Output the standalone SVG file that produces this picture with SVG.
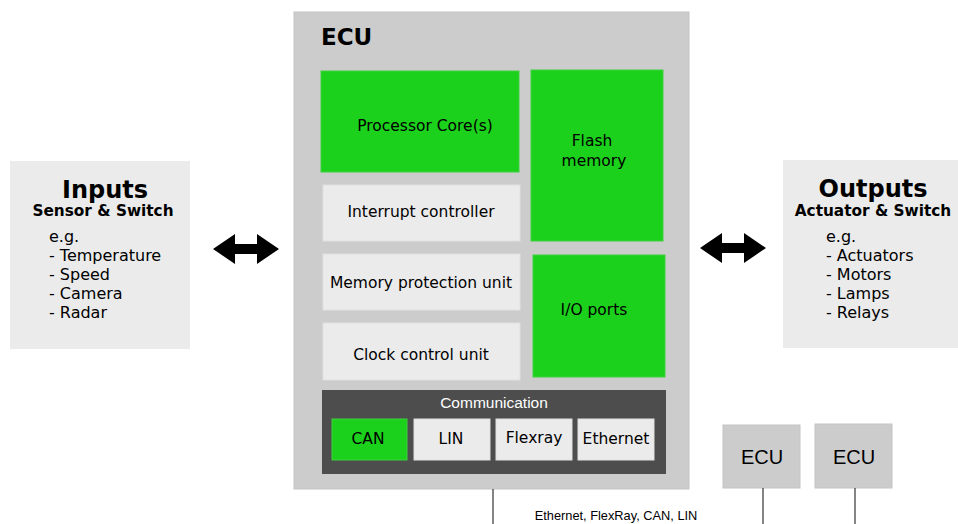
<svg xmlns="http://www.w3.org/2000/svg" width="958" height="524" viewBox="0 0 958 524">
<style>
.v{font-family:"DejaVu Sans",Verdana,sans-serif;fill:#000}
.a{font-family:"Liberation Sans",Arial,sans-serif}
.g{fill:#1cd11c;stroke:#3fcf3f;stroke-width:1}
.l{fill:#ebebeb;stroke:#e0e0e0;stroke-width:1}
.t{font-size:15.5px;text-anchor:middle}
.ln{stroke:#333;stroke-width:1.2;fill:none}
</style>
<rect width="958" height="524" fill="#fff"/>
<g id="inputs">
<rect x="10" y="161" width="180" height="188" fill="#ebebeb"/>
<text class="v" x="105" y="198" font-size="24" font-weight="bold" text-anchor="middle">Inputs</text>
<text class="v" x="103" y="216" font-size="15.3" font-weight="bold" text-anchor="middle">Sensor &amp; Switch</text>
<text class="v" font-size="16"><tspan x="49" y="242">e.g.</tspan><tspan x="49" y="261">- Temperature</tspan><tspan x="49" y="280">- Speed</tspan><tspan x="49" y="299">- Camera</tspan><tspan x="49" y="318">- Radar</tspan></text>
</g>
<g id="outputs">
<rect x="783" y="160" width="175" height="188" fill="#ebebeb"/>
<text class="v" x="873" y="197" font-size="24" font-weight="bold" text-anchor="middle">Outputs</text>
<text class="v" x="873" y="216" font-size="15.3" font-weight="bold" text-anchor="middle">Actuator &amp; Switch</text>
<text class="v" font-size="16"><tspan x="826" y="242">e.g.</tspan><tspan x="826" y="261">- Actuators</tspan><tspan x="826" y="280">- Motors</tspan><tspan x="826" y="299">- Lamps</tspan><tspan x="826" y="318">- Relays</tspan></text>
</g>
<g id="ecu">
<rect x="294" y="12" width="395" height="477" fill="#cccccc" stroke="#c4c4c4"/>
<text class="v" x="321" y="45" font-size="23" font-weight="bold">ECU</text>
</g>
<g id="processor"><rect class="g" x="321" y="71" width="198" height="101"/><text class="v t" x="425" y="131">Processor Core(s)</text></g>
<g id="flash"><rect class="g" x="531" y="70" width="132" height="171"/><text class="v t" x="592" y="146">Flash</text><text class="v t" x="594" y="166">memory</text></g>
<g id="interrupt"><rect class="l" x="323" y="185" width="197" height="56"/><text class="v t" x="421" y="217">Interrupt controller</text></g>
<g id="mpu"><rect class="l" x="323" y="254" width="197" height="56"/><text class="v t" x="421" y="288">Memory protection unit</text></g>
<g id="clock"><rect class="l" x="323" y="323" width="197" height="57"/><text class="v t" x="421" y="360">Clock control unit</text></g>
<g id="io"><rect class="g" x="533" y="255" width="132" height="122"/><text class="v t" x="594" y="315">I/O ports</text></g>
<g id="communication">
<rect x="322" y="390" width="344" height="84" fill="#4d4d4d"/>
<text class="a" x="494" y="408" font-size="15.5" fill="#fff" text-anchor="middle">Communication</text>
</g>
<g id="can"><rect class="g" x="332" y="419" width="75" height="41"/><text class="v t" x="368" y="444">CAN</text></g>
<g id="lin"><rect class="l" x="414" y="419" width="76" height="41"/><text class="v t" x="451" y="444">LIN</text></g>
<g id="flexray"><rect class="l" x="496" y="419" width="76" height="41"/><text class="v t" x="534" y="443">Flexray</text></g>
<g id="ethernet"><rect class="l" x="578" y="419" width="76" height="41"/><text class="v t" x="616" y="444">Ethernet</text></g>
<g id="ecu2"><rect x="723" y="425" width="77" height="63" fill="#cccccc" stroke="#c4c4c4"/><text class="a" x="762" y="464" font-size="20" text-anchor="middle">ECU</text></g>
<g id="ecu3"><rect x="815" y="424" width="77" height="64" fill="#cccccc" stroke="#c4c4c4"/><text class="a" x="854" y="464" font-size="20" text-anchor="middle">ECU</text></g>
<g id="connectors">
<polygon points="213,249 235,234 235,244 257,244 257,234 279,249 257,264 257,254 235,254 235,264" fill="#000"/>
<polygon points="700,248 722,233 722,243 744,243 744,233 766,248 744,263 744,253 722,253 722,263" fill="#000"/>
<line class="ln" x1="493" y1="489" x2="493" y2="524"/>
<line class="ln" x1="763" y1="488" x2="763" y2="524"/>
<line class="ln" x1="855" y1="488" x2="855" y2="524"/>
<text class="a" x="616" y="520" font-size="12.8" text-anchor="middle">Ethernet, FlexRay, CAN, LIN</text>
</g>
</svg>
